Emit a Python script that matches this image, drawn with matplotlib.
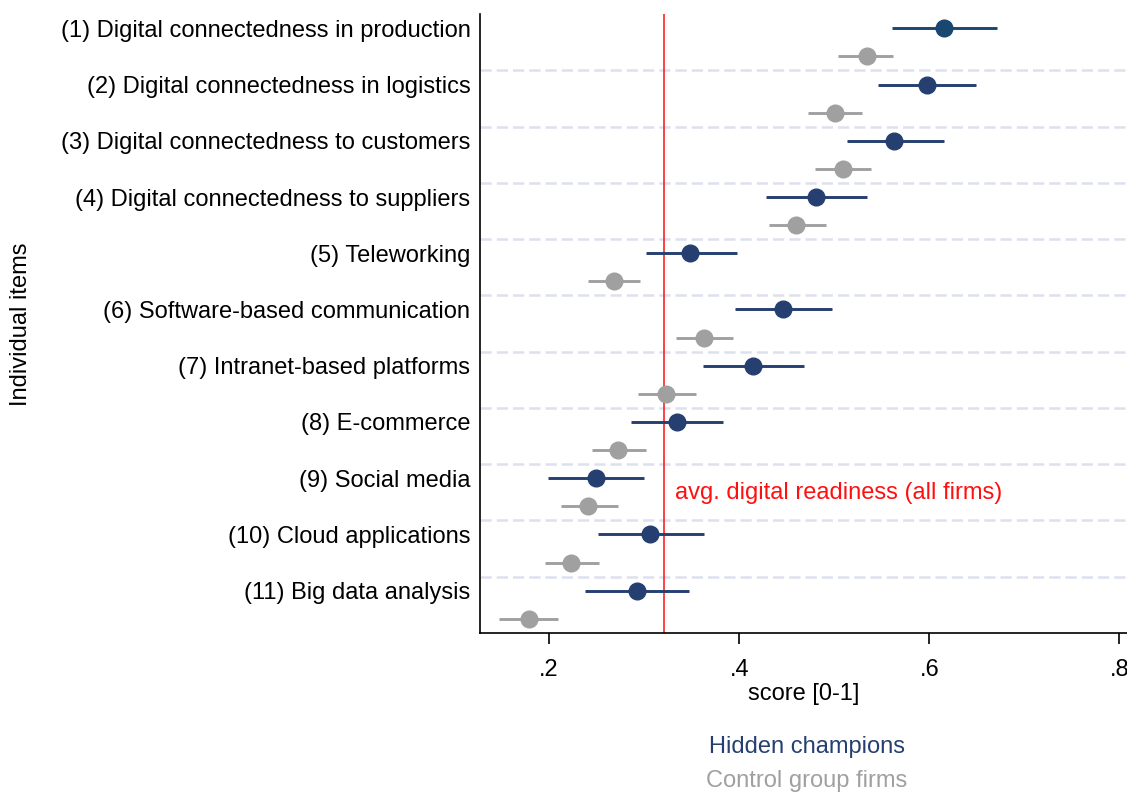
import numpy as np
import matplotlib
matplotlib.use('Agg')
import matplotlib.pyplot as plt

plt.rcParams['font.family'] = ['Liberation Sans', 'DejaVu Sans']

# items, top to bottom
items = ['(1) Digital connectedness in production',
         '(2) Digital connectedness in logistics',
         '(3) Digital connectedness to customers',
         '(4) Digital connectedness to suppliers',
         '(5) Teleworking',
         '(6) Software-based communication',
         '(7) Intranet-based platforms',
         '(8) E-commerce',
         '(9) Social media',
         '(10) Cloud applications',
         '(11) Big data analysis']

# hidden champions: mean and 95% CI
hc_mean = [0.615, 0.598, 0.563, 0.481, 0.348, 0.446, 0.415, 0.335, 0.249, 0.306, 0.292]
hc_lo = [0.561, 0.546, 0.513, 0.428, 0.302, 0.396, 0.362, 0.286, 0.199, 0.251, 0.238]
hc_hi = [0.671, 0.649, 0.615, 0.534, 0.398, 0.498, 0.468, 0.383, 0.300, 0.363, 0.347]

# control group firms
cg_mean = [0.534, 0.501, 0.509, 0.460, 0.268, 0.363, 0.323, 0.273, 0.241, 0.223, 0.179]
cg_lo = [0.504, 0.472, 0.480, 0.431, 0.241, 0.334, 0.293, 0.245, 0.213, 0.196, 0.147]
cg_hi = [0.562, 0.529, 0.539, 0.491, 0.296, 0.393, 0.355, 0.302, 0.272, 0.252, 0.209]

avg_all = 0.321

navy = '#263f71'
navy1 = '#1a476f'
grey = '#a0a0a0'
fs = 17

fig = plt.figure(figsize=(11.27, 7.92), dpi=100)
ax = fig.add_axes([0.426, 0.201, 0.574, 0.781])

n = len(items)
pos = np.arange(n)

# separators between items
for k in range(n - 1):
    ax.axhline(k + 0.75, color='#dde1ee', lw=1.8, dashes=(4.5, 2), zorder=0)

ax.axvline(avg_all, color='#ff2020', lw=1.2, zorder=1)

for i in range(n):
    c = navy1 if i == 0 else navy
    ax.plot([hc_lo[i], hc_hi[i]], [pos[i], pos[i]], color=c, lw=2.1, zorder=2,
            solid_capstyle='butt')
    ax.plot(hc_mean[i], pos[i], 'o', color=c, ms=12, zorder=3)
    ax.plot([cg_lo[i], cg_hi[i]], [pos[i] + 0.5, pos[i] + 0.5], color=grey, lw=2.1,
            zorder=2, solid_capstyle='butt')
    ax.plot(cg_mean[i], pos[i] + 0.5, 'o', color=grey, ms=12, zorder=3)

ax.text(avg_all + 0.011, 8.27, 'avg. digital readiness (all firms)', color='#ff1010',
        fontsize=fs, va='center', ha='left')

ax.set_ylim(n - 0.25, -0.25)
ax.set_xlim(0.1274, 0.808)
ax.set_yticks(pos)
ax.set_yticklabels(items, fontsize=fs)
ax.set_xticks([0.2, 0.4, 0.6, 0.8])
ax.set_xticklabels(['.2', '.4', '.6', '.8'], fontsize=fs)
ax.tick_params(axis='y', length=0, pad=7)
ax.tick_params(axis='x', length=8, width=1.2, pad=11)
ax.spines['top'].set_visible(False)
ax.spines['right'].set_visible(False)
ax.spines['left'].set_linewidth(1.2)
ax.spines['bottom'].set_linewidth(1.2)

ax.set_xlabel('score [0-1]', fontsize=fs, labelpad=1)
fig.text(0.019, 0.59, 'Individual items', rotation=90, fontsize=fs, va='center', ha='center')

fig.text(0.716, 0.057, 'Hidden champions', color=navy, fontsize=fs, ha='center', va='center')
fig.text(0.716, 0.014, 'Control group firms', color=grey, fontsize=fs, ha='center', va='center')

fig.savefig('out.png', dpi=100, facecolor='white')
